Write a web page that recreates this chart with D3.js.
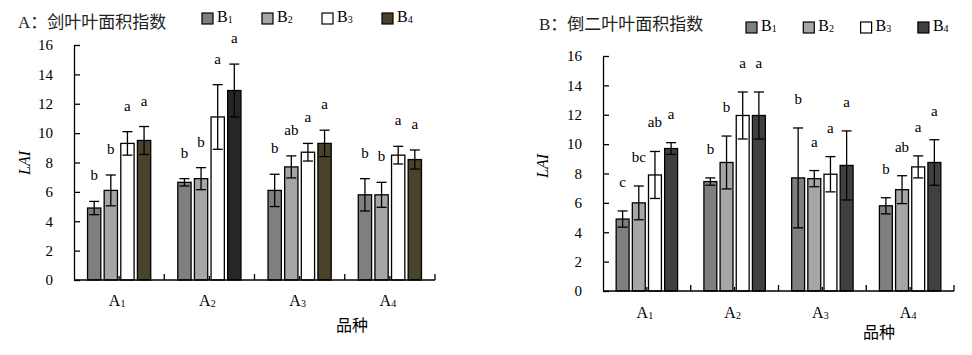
<!DOCTYPE html>
<html><head><meta charset="utf-8">
<script src="https://cdn.jsdelivr.net/npm/d3@7"></script>
<style>body{margin:0;background:#fff}svg{display:block}</style>
</head><body>
<svg id="c" width="972" height="355"></svg>
<script>
// ---------- data ----------
const categories = ["A1", "A2", "A3", "A4"];
const seriesNames = ["B1", "B2", "B3", "B4"];
const yTicks = [0, 2, 4, 6, 8, 10, 12, 14, 16];
const xTitle = "品种";
const yTitle = "LAI";

// Panel A: 剑叶叶面积指数
const titleA = "A：剑叶叶面积指数";
const flagB1 = [4.9, 6.65, 6.1, 5.8];
const flagB2 = [6.1, 6.9, 7.7, 5.8];
const flagB3 = [9.3, 11.1, 8.7, 8.5];
const flagB4 = [9.5, 12.9, 9.3, 8.2];
const flagErrB1 = [0.45, 0.25, 1.1, 1.1];
const flagErrB2 = [1.05, 0.75, 0.75, 0.85];
const flagErrB3 = [0.8, 2.2, 0.6, 0.6];
const flagErrB4 = [0.95, 1.8, 0.9, 0.65];
const flagSigB1 = ["b", "b", "b", "b"];
const flagSigB2 = ["b", "b", "ab", "b"];
const flagSigB3 = ["a", "a", "a", "a"];
const flagSigB4 = ["a", "a", "a", "a"];

// Panel B: 倒二叶叶面积指数
const titleB = "B：倒二叶叶面积指数";
const secB1 = [4.9, 7.45, 7.7, 5.8];
const secB2 = [6.0, 8.75, 7.65, 6.9];
const secB3 = [7.9, 11.95, 7.95, 8.45];
const secB4 = [9.7, 11.95, 8.55, 8.75];
const secErrB1 = [0.55, 0.25, 3.4, 0.55];
const secErrB2 = [1.15, 1.8, 0.55, 0.95];
const secErrB3 = [1.6, 1.6, 1.2, 0.75];
const secErrB4 = [0.4, 1.6, 2.35, 1.55];
const secSigB1 = ["c", "b", "b", "b"];
const secSigB2 = ["bc", "b", "a", "ab"];
const secSigB3 = ["ab", "a", "a", "a"];
const secSigB4 = ["a", "a", "a", "a"];

// ---------- drawing ----------
const svg = d3.select("#c");
svg.append("rect").attr("width", 972).attr("height", 355).attr("fill", "#fff");
const LAT = "'Liberation Serif','Times New Roman',serif";
const MIX = "'Liberation Serif','Noto Sans CJK SC',serif";
const CJK = "'Noto Sans CJK SC',sans-serif";

function subText(sel, str, big, small) {
  sel.append("tspan").attr("font-size", big).text(str.slice(0, 1));
  sel.append("tspan").attr("font-size", small).attr("dy", 1).text(str.slice(1));
}

function drawPanel(p) {
  const g = svg.append("g");
  const x = d3.scaleBand().domain(categories).range([p.x0, p.x1]);
  const y = d3.scaleLinear().domain([0, 16]).range([p.yb, p.yt]);
  const bw = x.bandwidth();
  const xs = d3.scaleBand().domain(seriesNames)
    .range([0.15 * bw, 0.85 * bw]).paddingInner(0.2);

  // bars
  const rows = [];
  categories.forEach((c, i) => {
    seriesNames.forEach((s, j) => {
      rows.push({c, i, s, j, m: p.means[j][i], e: p.errs[j][i], sig: p.sigs[j][i]});
    });
  });
  g.selectAll("rect.bar").data(rows).join("rect")
    .attr("class", "bar")
    .attr("x", d => x(d.c) + xs(d.s))
    .attr("y", d => y(d.m))
    .attr("width", xs.bandwidth())
    .attr("height", d => y(0) - y(d.m))
    .attr("fill", d => p.fill(d))
    .attr("stroke", "#000").attr("stroke-width", 1.3);

  // error bars
  const cap = 5;
  const eb = g.selectAll("g.err").data(rows).join("g").attr("class", "err")
    .attr("stroke", "#000").attr("stroke-width", 1.3)
    .attr("transform", d => `translate(${x(d.c) + xs(d.s) + xs.bandwidth() / 2},0)`);
  eb.append("line").attr("x1", 0).attr("x2", 0)
    .attr("y1", d => y(d.m - d.e)).attr("y2", d => y(d.m + d.e));
  eb.append("line").attr("x1", -cap).attr("x2", cap)
    .attr("y1", d => y(d.m + d.e)).attr("y2", d => y(d.m + d.e));
  eb.append("line").attr("x1", -cap).attr("x2", cap)
    .attr("y1", d => y(d.m - d.e)).attr("y2", d => y(d.m - d.e));

  // significance letters
  g.selectAll("text.sig").data(rows).join("text").attr("class", "sig")
    .attr("x", d => x(d.c) + xs(d.s) + xs.bandwidth() / 2)
    .attr("y", d => y(d.m + d.e) - p.sigOff)
    .attr("text-anchor", "middle")
    .attr("font-family", LAT).attr("font-size", 15).attr("fill", "#000")
    .text(d => d.sig);

  // y axis
  const ya = g.append("g").attr("transform", `translate(${p.x0},0)`)
    .call(d3.axisLeft(y).tickValues(yTicks).tickSizeInner(-6).tickSizeOuter(0).tickPadding(21));
  ya.selectAll("path,line").attr("stroke", "#000").attr("stroke-width", 1.3);
  ya.selectAll("text").attr("font-family", LAT).attr("font-size", 15).attr("fill", "#000");

  // x axis
  g.append("line").attr("x1", p.x0).attr("x2", p.x1).attr("y1", p.yb).attr("y2", p.yb)
    .attr("stroke", "#000").attr("stroke-width", 1.5);
  const bounds = categories.slice(1).map(c => x(c)).concat([p.x1]);
  g.selectAll("line.bt").data(bounds).join("line").attr("class", "bt")
    .attr("x1", d => d).attr("x2", d => d).attr("y1", p.yb).attr("y2", p.yb - 6)
    .attr("stroke", "#000").attr("stroke-width", 1.3);
  g.selectAll("line.ct").data(categories).join("line").attr("class", "ct")
    .attr("x1", d => x(d) + bw / 2).attr("x2", d => x(d) + bw / 2)
    .attr("y1", p.yb).attr("y2", p.yb - 4)
    .attr("stroke", "#000").attr("stroke-width", 1.3);
  g.selectAll("text.xl").data(categories).join("text").attr("class", "xl")
    .attr("x", d => x(d) + bw / 2 - 2).attr("y", p.yb + p.xlOff)
    .attr("text-anchor", "middle").attr("font-family", LAT).attr("fill", "#000")
    .each(function(d) { subText(d3.select(this), d, 16, 10); });

  // axis titles
  g.append("text").attr("x", p.xtX).attr("y", p.xtY).attr("text-anchor", "middle")
    .attr("font-family", CJK).attr("font-size", 16).attr("fill", "#000").text(xTitle);
  g.append("text").attr("transform", `translate(${p.ytX},${p.ytY}) rotate(-90)`)
    .attr("text-anchor", "middle").attr("font-family", LAT).attr("font-style", "italic")
    .attr("font-size", 16).attr("fill", "#000").text(yTitle);

  // title
  g.append("text").attr("x", p.tX).attr("y", p.tY).attr("font-family", MIX)
    .attr("font-size", 17).attr("fill", "#222").text(p.title);

  // legend
  const lg = g.selectAll("g.leg").data(seriesNames).join("g").attr("class", "leg")
    .attr("transform", (d, j) => `translate(${p.lX + j * p.lStep},${p.lY})`);
  lg.append("rect").attr("width", 11).attr("height", 11)
    .attr("fill", (d, j) => p.legFill[j]).attr("stroke", "#000").attr("stroke-width", 1.2);
  lg.append("text").attr("x", 15).attr("y", 9).attr("font-family", LAT).attr("fill", "#000")
    .each(function(d) { subText(d3.select(this), d, 16, 10); });
}

const colorsA = ["#7f7f7f", "#a6a6a6", "#ffffff", "#4a432c"];
const colorsB = ["#7f7f7f", "#a6a6a6", "#ffffff", "#404040"];

drawPanel({
  title: titleA,
  means: [flagB1, flagB2, flagB3, flagB4],
  errs: [flagErrB1, flagErrB2, flagErrB3, flagErrB4],
  sigs: [flagSigB1, flagSigB2, flagSigB3, flagSigB4],
  fill: d => (d.i === 1 && d.j === 3) ? "#262626" : colorsA[d.j],
  legFill: colorsA,
  x0: 74, x1: 435, yb: 280, yt: 45,
  sigOff: 21, xlOff: 26,
  xtX: 352, xtY: 331, ytX: 30, ytY: 163,
  tX: 18, tY: 28,
  lX: 202, lY: 13, lStep: 60
});

drawPanel({
  title: titleB,
  means: [secB1, secB2, secB3, secB4],
  errs: [secErrB1, secErrB2, secErrB3, secErrB4],
  sigs: [secSigB1, secSigB2, secSigB3, secSigB4],
  fill: d => colorsB[d.j],
  legFill: colorsB,
  x0: 603, x1: 954, yb: 291, yt: 56,
  sigOff: 24, xlOff: 27,
  xtX: 879, xtY: 338, ytX: 548, ytY: 166,
  tX: 539, tY: 30,
  lX: 746, lY: 22, lStep: 57.3
});
</script>
</body></html>
